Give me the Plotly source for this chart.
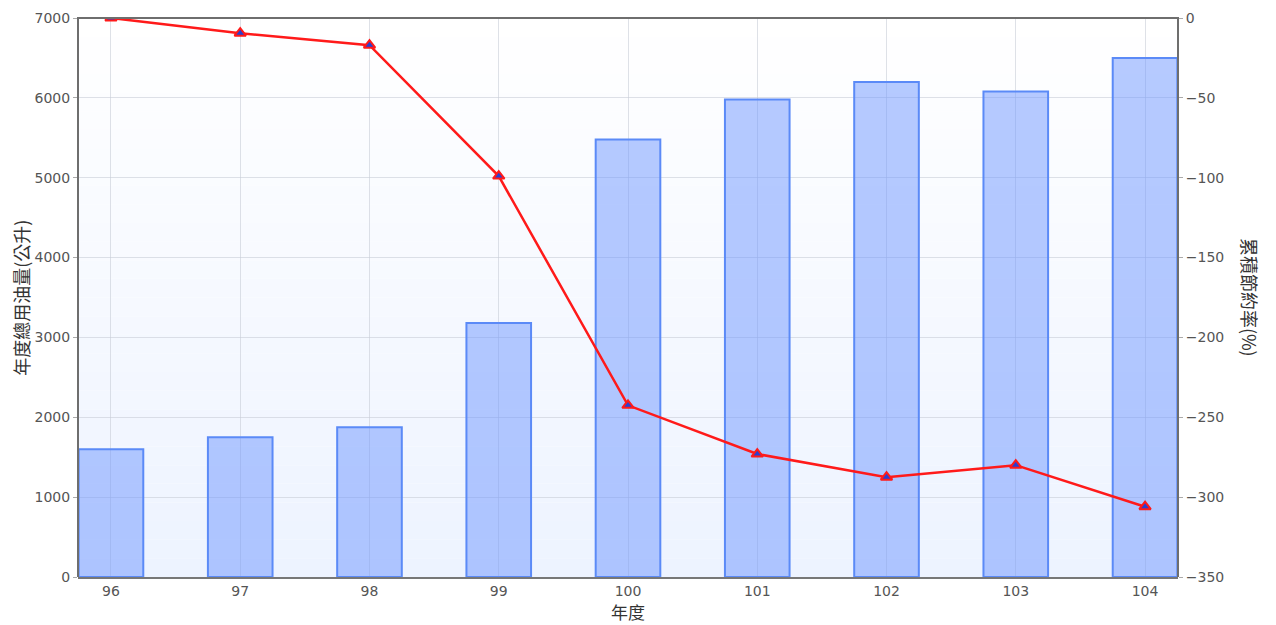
import plotly.graph_objects as go

years = ["96", "97", "98", "99", "100", "101", "102", "103", "104"]
fuel = [1600, 1750, 1875, 3180, 5480, 5980, 6200, 6080, 6500]
saving = [0, -9.5, -17, -99, -242.5, -273, -287.5, -280, -306]

FONT = "DejaVu Sans, Noto Sans CJK TC, sans-serif"
TITLE_FONT = "Noto Sans CJK TC, DejaVu Sans, sans-serif"

fig = go.Figure()
fig.add_trace(go.Bar(
    x=years, y=fuel, name="年度總用油量",
    marker=dict(color="rgba(110,150,255,0.5)", line=dict(color="#5b8af7", width=2)),
    width=0.5, yaxis="y",
))
fig.add_trace(go.Scatter(
    x=years, y=saving, name="累積節約率", mode="lines+markers", yaxis="y2",
    line=dict(color="#ff1a1a", width=2.5),
    marker=dict(symbol="triangle-up", size=10, color="#2a3fd0", line=dict(color="#ff1a1a", width=2)),
))

# subtle vertical gradient background
shapes = []
n = 30
top = (255, 255, 255)
bot = (237, 243, 255)
for i in range(n):
    t = (i + 0.5) / n
    c = tuple(round(top[k] + (bot[k] - top[k]) * t) for k in range(3))
    shapes.append(dict(type="rect", xref="paper", yref="paper",
                       x0=0, x1=1, y1=1 - i / n, y0=1 - (i + 1) / n,
                       fillcolor="rgb(%d,%d,%d)" % c, line=dict(width=0), layer="below"))
# frame left/top/right
shapes.append(dict(type="path", xref="paper", yref="paper",
                   path="M0,0 L0,1 L1,1 L1,0", line=dict(color="#6e6e6e", width=2), layer="above"))

title_font = dict(family=TITLE_FONT, size=18, color="#333333")

fig.update_layout(
    width=1260, height=617,
    margin=dict(l=70, r=90, t=10, b=48),
    paper_bgcolor="white", plot_bgcolor="rgba(0,0,0,0)",
    showlegend=False,
    font=dict(family=FONT, color="#555555", size=14),
    shapes=shapes,
    xaxis=dict(
        type="category", range=[-0.255, 8.255], automargin=False,
        showgrid=True, gridcolor="rgba(200,205,215,0.6)", gridwidth=1,
        showline=True, linecolor="#777777", linewidth=2,
        ticks="", ticklen=0,
        tickfont=dict(size=14, color="#555555"),
    ),
    yaxis=dict(
        range=[0, 7000], dtick=1000, automargin=False,
        showgrid=True, gridcolor="rgba(200,205,215,0.6)", gridwidth=1,
        zeroline=False, showline=False,
        ticks="outside", ticklen=4, tickcolor="#aaaaaa",
        tickfont=dict(size=14, color="#555555"),
    ),
    yaxis2=dict(
        overlaying="y", side="right", range=[-350, 0], dtick=50, automargin=False,
        showgrid=False, zeroline=False, showline=False,
        ticks="outside", ticklen=4, tickcolor="#aaaaaa",
        tickfont=dict(size=14, color="#555555"),
    ),
    annotations=[
        dict(text="年度", xref="paper", yref="paper", x=0.5, y=-0.0626,
             showarrow=False, font=dict(family=TITLE_FONT, size=17, color="#333333"),
             xanchor="center", yanchor="middle"),
        dict(text="年度總用油量(公升)", xref="paper", yref="paper", x=-0.0525, y=0.5,
             textangle=-90, showarrow=False, font=title_font, xanchor="center", yanchor="middle"),
        dict(text="累積節約率(%)", xref="paper", yref="paper", x=1.066, y=0.5,
             textangle=90, showarrow=False, font=title_font, xanchor="center", yanchor="middle"),
    ],
)

fig.write_html("out.html")
